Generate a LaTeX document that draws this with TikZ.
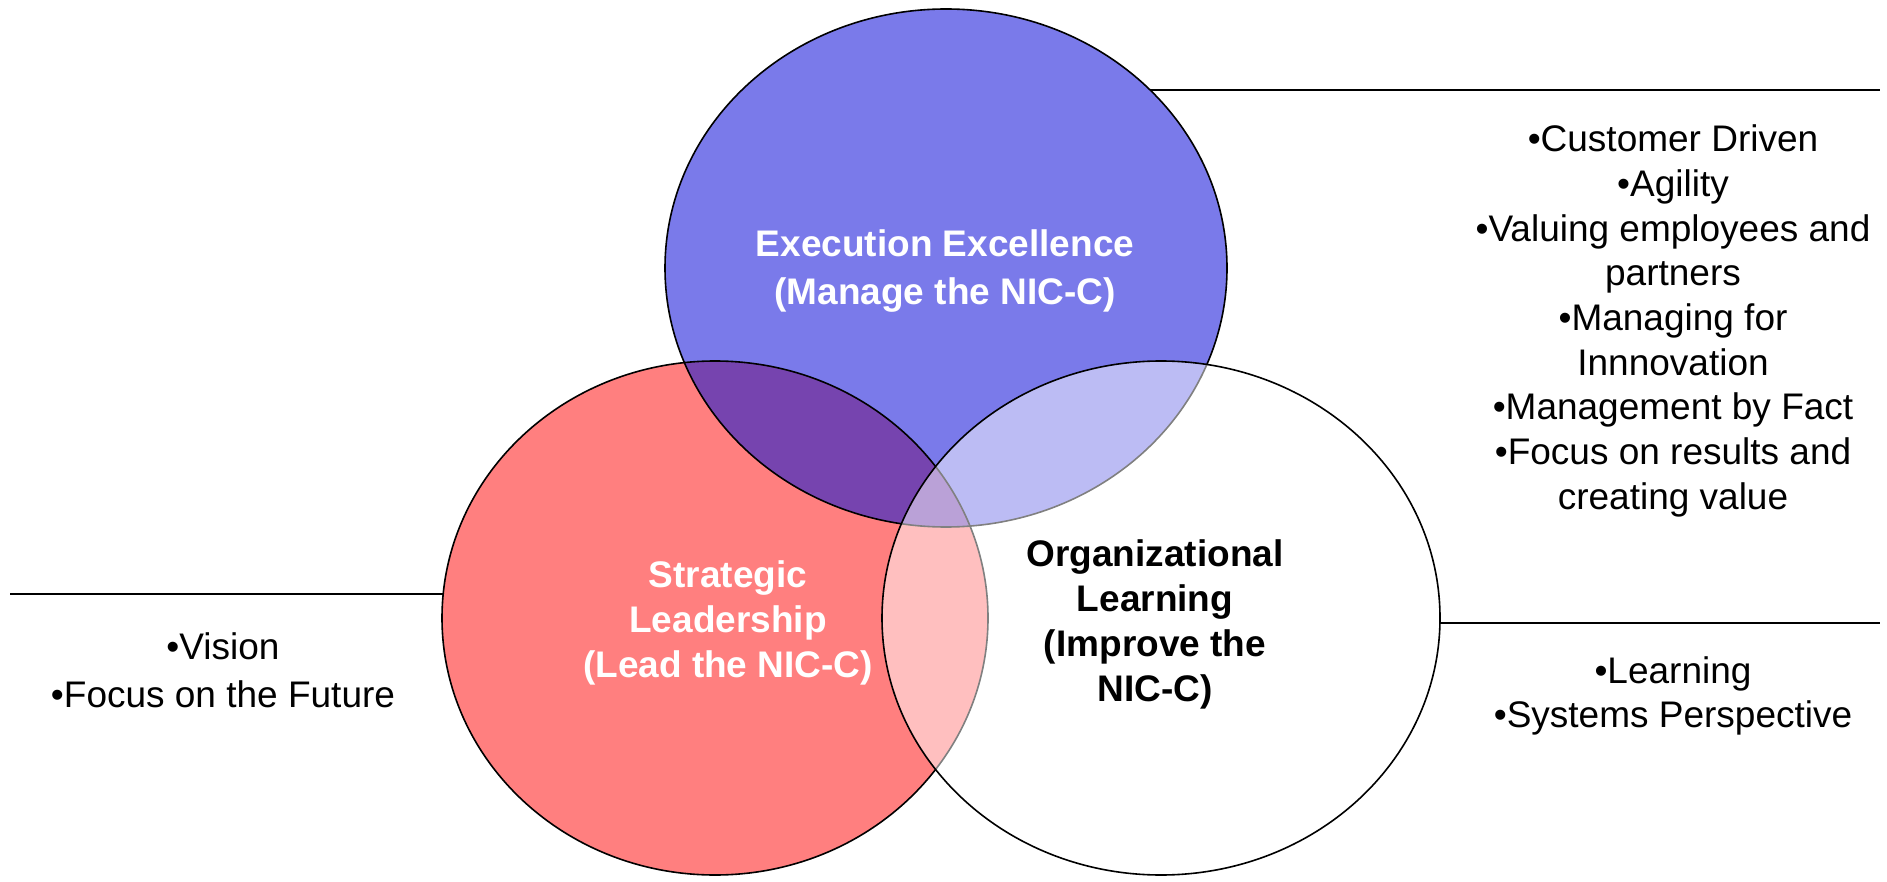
\documentclass[tikz,border=0pt]{standalone}
\usepackage{fontspec}
\setmainfont{Liberation Sans}
\usetikzlibrary{shapes.geometric}
\definecolor{vblue}{RGB}{122,122,234}
\definecolor{vred}{RGB}{255,127,127}
\definecolor{vpurple}{RGB}{118,68,175}
\begin{document}
\begin{tikzpicture}[x=1pt,y=-1pt,
  circ/.style={ellipse,inner sep=0pt,outer sep=0pt,line width=1.6pt},
  lbl/.style={font=\fontsize{37}{45}\selectfont\bfseries,align=center},
  lst/.style={font=\fontsize{37}{44.7}\selectfont,align=center},
  rule/.style={line width=1.6pt}]
\useasboundingbox (0,0) rectangle (1887,882);
\fill[white] (0,0) rectangle (1887,882);
% fills
\node[circ,fill=vred,minimum width=546pt,minimum height=514pt] (red) at (715,618) {};
\node[circ,fill=vblue,minimum width=562pt,minimum height=518pt] (blue) at (946,268) {};
\begin{scope}
  \clip (715,618) ellipse [x radius=273pt,y radius=257pt];
  \fill[vpurple] (946,268) ellipse [x radius=281pt,y radius=259pt];
\end{scope}
% outlines
\node[circ,draw=black,minimum width=546pt,minimum height=514pt] (redline) at (red.center) {};
\node[circ,draw=black,minimum width=562pt,minimum height=518pt] (blueline) at (blue.center) {};
\node[circ,fill=white,fill opacity=0.5,draw=black,draw opacity=1,minimum width=558pt,minimum height=514pt] (white) at (1161,618) {};
% rules
\coordinate (leftend) at (10,0);
\coordinate (rightend) at (1880,0);
\draw[rule] (blue.41) -- (blue.41 -| rightend);
\draw[rule] (red.175) -- (red.175 -| leftend);
\draw[rule] (white.359) -- (white.359 -| rightend);
% labels
\node[lbl,text=white] (exec) at (945,271) {Execution Excellence\\[3pt](Manage the NIC-C)};
\node[lbl,text=white] (strat) at (728,623) {Strategic\\Leadership\\(Lead the NIC-C)};
\node[lbl,text=black] (org) at (1155,624) {Organizational\\Learning\\(Improve the\\NIC-C)};
\node[lst] (leftlist) at (223,670) {•Vision\\[3pt]•Focus on the Future};
\node[lst] (toplist) at (1673,321) {•Customer Driven\\•Agility\\•Valuing employees and\\partners\\•Managing for\\Innnovation\\•Management by Fact\\•Focus on results and\\creating value};
\node[lst] (botlist) at (1673,696) {•Learning\\•Systems Perspective};
\end{tikzpicture}
\end{document}
